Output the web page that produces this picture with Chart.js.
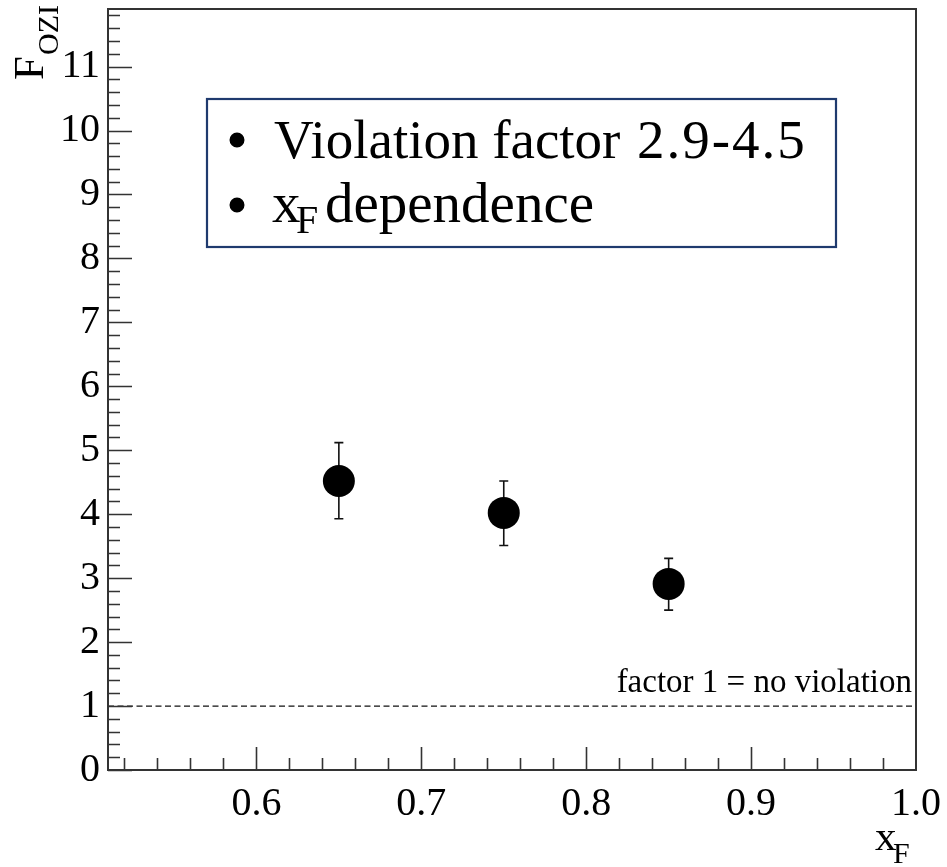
<!DOCTYPE html>
<html>
<head>
<meta charset="utf-8">
<script src="https://cdn.jsdelivr.net/npm/chart.js@4/dist/chart.umd.min.js"></script>
<style>
	html, body { margin: 0; padding: 0; background: #fff; }
	#wrap { width: 947px; height: 867px; }
</style>
</head>
<body>
<div id="wrap"><canvas id="OziChart" width="947" height="867"></canvas></div>
<script>
// measured points: x_F, F_OZI and errors
var xfValues = [0.65, 0.75, 0.85];
var foziValues = [4.52, 4.02, 2.91];
var foziErrUp = [0.6, 0.5, 0.4];
var foziErrDown = [0.59, 0.51, 0.41];

// reference level: factor 1
var noViolationLevel = 1;

// axes
var xRange = [0.51, 1.0];
var yRange = [0, 11.9];
var xTickLabels = [0.6, 0.7, 0.8, 0.9, 1.0];
var yTickLabels = [0, 1, 2, 3, 4, 5, 6, 7, 8, 9, 10, 11];

var serif = '"Liberation Serif", "Times New Roman", serif';

function getPoints(){
	return xfValues.map(function(x, i){
		return { x: x, y: foziValues[i] };
	});
}

// ROOT style frame, inner ticks, titles, error bars and the text box
var rootStyle = {
	id: 'rootStyle',
	beforeDatasetsDraw: function(chart){
		var ctx = chart.ctx;
		var xs = chart.scales.x, ys = chart.scales.y;
		ctx.save();
		ctx.strokeStyle = '#111';
		ctx.lineWidth = 1.6;
		for (var i = 0; i < xfValues.length; i++) {
			var px = xs.getPixelForValue(xfValues[i]);
			var top = ys.getPixelForValue(foziValues[i] + foziErrUp[i]);
			var bot = ys.getPixelForValue(foziValues[i] - foziErrDown[i]);
			ctx.beginPath();
			ctx.moveTo(px, top); ctx.lineTo(px, bot);
			ctx.moveTo(px - 4.5, top); ctx.lineTo(px + 4.5, top);
			ctx.moveTo(px - 4.5, bot); ctx.lineTo(px + 4.5, bot);
			ctx.stroke();
		}
		ctx.restore();
	},
	afterDraw: function(chart){
		var ctx = chart.ctx;
		var a = chart.chartArea;
		var xs = chart.scales.x, ys = chart.scales.y;
		ctx.save();

		// ticks inside the frame
		ctx.strokeStyle = '#333';
		ctx.lineWidth = 1.6;
		ctx.beginPath();
		var v, p, major;
		for (v = 0; v <= 11.8 + 1e-6; v += 0.2) {
			p = Math.round(ys.getPixelForValue(v)) + 0.5;
			major = Math.abs(v - Math.round(v)) < 1e-6;
			ctx.moveTo(a.left, p);
			ctx.lineTo(a.left + (major ? 24 : 12), p);
		}
		for (v = 0.52; v <= 0.98 + 1e-6; v += 0.02) {
			p = Math.round(xs.getPixelForValue(v)) + 0.5;
			major = Math.abs(v * 10 - Math.round(v * 10)) < 1e-6;
			ctx.moveTo(p, a.bottom);
			ctx.lineTo(p, a.bottom - (major ? 23 : 12));
		}
		ctx.stroke();

		// frame
		ctx.strokeStyle = '#333';
		ctx.lineWidth = 2;
		ctx.strokeRect(a.left, a.top, a.right - a.left, a.bottom - a.top);

		ctx.fillStyle = '#000';
		ctx.textBaseline = 'alphabetic';

		// text above the dashed line
		ctx.font = '33px ' + serif;
		ctx.textAlign = 'right';
		ctx.fillText('factor 1 = no violation', a.right - 4, ys.getPixelForValue(noViolationLevel) - 14);

		// x title
		ctx.textAlign = 'left';
		ctx.font = '43px ' + serif;
		ctx.fillText('x', a.right - 41, a.bottom + 80);
		ctx.font = '30px ' + serif;
		ctx.fillText('F', a.right - 23, a.bottom + 93);

		// y title, rotated
		ctx.save();
		ctx.translate(43, 80);
		ctx.rotate(-Math.PI / 2);
		ctx.font = '43px ' + serif;
		ctx.fillText('F', 0, 0);
		ctx.font = '30px ' + serif;
		ctx.fillText('OZI', 25, 15);
		ctx.restore();

		// info box
		ctx.fillStyle = '#fff';
		ctx.fillRect(207, 99, 629, 148);
		ctx.strokeStyle = '#1f3a6e';
		ctx.lineWidth = 2.2;
		ctx.strokeRect(207, 99, 629, 148);

		ctx.fillStyle = '#000';
		ctx.beginPath();
		ctx.arc(237, 140, 7.5, 0, Math.PI * 2);
		ctx.arc(237, 205, 7.5, 0, Math.PI * 2);
		ctx.fill();

		ctx.font = '55px ' + serif;
		ctx.fillText('Violation factor', 274, 158);
		if ('letterSpacing' in ctx) ctx.letterSpacing = '2px';
		ctx.fillText('2.9-4.5', 637, 158);
		if ('letterSpacing' in ctx) ctx.letterSpacing = '0px';
		ctx.font = '57px ' + serif;
		ctx.fillText('x', 272, 222);
		ctx.font = '40px ' + serif;
		ctx.fillText('F', 296, 233);
		ctx.font = '57px ' + serif;
		ctx.fillText('dependence', 325, 222);

		ctx.restore();
	}
};

var data = {
	datasets: [
		{
			label: 'F_OZI',
			data: getPoints(),
			showLine: false,
			pointRadius: 16,
			pointHoverRadius: 16,
			pointBackgroundColor: '#000',
			pointBorderColor: '#000',
			pointBorderWidth: 0
		},
		{
			label: 'no violation',
			data: [{ x: xRange[0], y: noViolationLevel }, { x: xRange[1], y: noViolationLevel }],
			showLine: true,
			borderColor: '#111',
			borderWidth: 1.3,
			borderDash: [6, 3.5],
			pointRadius: 0,
			fill: false
		}
	]
};

new Chart(document.getElementById('OziChart'), {
	type: 'scatter',
	data: data,
	plugins: [rootStyle],
	options: {
		responsive: false,
		animation: false,
		events: [],
		layout: { autoPadding: false, padding: { left: 0, right: 31, top: 9, bottom: 0 } },
		plugins: { legend: { display: false }, tooltip: { enabled: false } },
		scales: {
			x: {
				type: 'linear',
				min: xRange[0],
				max: xRange[1],
				grid: { display: false, drawTicks: false },
				border: { display: false },
				afterBuildTicks: function(scale){
					scale.ticks = xTickLabels.map(function(v){ return { value: v }; });
				},
				afterFit: function(scale){
					scale.height = 97;
					scale.paddingLeft = 0;
					scale.paddingRight = 0;
				},
				ticks: {
					padding: 10,
					maxRotation: 0,
					color: '#000',
					font: { family: serif, size: 40 },
					callback: function(v){ return Number(v).toFixed(1); }
				}
			},
			y: {
				type: 'linear',
				min: yRange[0],
				max: yRange[1],
				grid: { display: false, drawTicks: false },
				border: { display: false },
				afterBuildTicks: function(scale){
					scale.ticks = yTickLabels.map(function(v){ return { value: v }; });
				},
				afterFit: function(scale){
					scale.width = 108;
					scale.paddingTop = 0;
					scale.paddingBottom = 0;
				},
				ticks: {
					padding: 8,
					color: '#000',
					font: { family: serif, size: 40 },
					callback: function(v){ return String(v); }
				}
			}
		}
	}
});
</script>
</body>
</html>
